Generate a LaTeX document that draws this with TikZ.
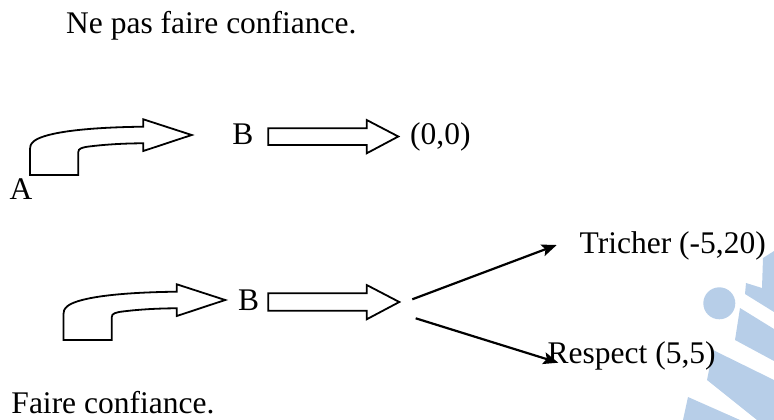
\documentclass[tikz,border=0pt]{standalone}
\usepackage{fontspec}
\setmainfont{Liberation Serif}
\usetikzlibrary{arrows.meta}
\definecolor{wmblue}{RGB}{183,206,232}
\tikzset{
  txt/.style={inner sep=0pt, anchor=base west, font=\fontsize{31.5}{36}\selectfont},
  blockarrow/.style={draw=black, line width=1.8pt, line join=miter, fill=white},
  conn/.style={draw=black, line width=2.2pt, -{Stealth[length=15pt,width=12pt,inset=3pt]}},
  wm/.style={fill=wmblue, draw=none},
  bentarrow/.pic={
    \path[blockarrow] (30,175) -- (78.3,175) -- (78.3,152)
      .. controls (78.3,148.5) and (82,147.3) .. (90,146.4)
      .. controls (105,144.5) and (125,143.3) .. (143.3,143.3)
      -- (143.3,151) -- (191.7,135) -- (143.3,119.3) -- (143.3,126.7)
      .. controls (75,127.5) and (42,134) .. (33.5,141.5)
      .. controls (30.5,144.5) and (30,146) .. (30,149) -- cycle;
  }
}
\begin{document}
\begin{tikzpicture}[x=1pt,y=-1pt]
\useasboundingbox (0,0) rectangle (774,420);
% watermark
\fill[wm] (719.3,303.3) circle (16);
\fill[wm] (763,258) -- (774,251) -- (774,312) -- (745,294) -- (746,283) -- (762,288) -- cycle;
\fill[wm] (740,308) -- (774,329) -- (774,361) -- (735,340) -- cycle;
\fill[wm] (713,350) -- (774,380) -- (774,420) -- (757,420) -- (707,380) -- cycle;
\fill[wm] (688,397) -- (740,420) -- (683,420) -- cycle;
% texts
\node[txt] (title) at (66,33.5) {Ne pas faire confiance.};
\node[txt] (A) at (9.5,199) {A};
\node[txt] (B1) at (232.2,144) {B};
\node[txt] (O) at (410,144) {(0,0)};
\node[txt] (B2) at (237.8,310.7) {B};
\node[txt] (T) at (579.5,253.3) {Tricher (-5,20)};
\node[txt] (R) at (547.5,363.3) {Respect (5,5)};
\node[txt] (F) at (11.3,413) {Faire confiance.};
% bent arrows
\pic (ba1) at (0,0) {bentarrow};
\pic (ba2) at (33.5,165) {bentarrow};
% straight block arrows
\path[blockarrow] (268.3,128.3) -- (366.7,128.3) -- (366.7,120) -- (398.3,136.5) -- (366.7,153.3) -- (366.7,145) -- (268.3,145) -- cycle;
\path[blockarrow] (268.3,293.3) -- (366.7,293.3) -- (366.7,285) -- (399.3,302) -- (366.7,319.3) -- (366.7,310.7) -- (268.3,310.7) -- cycle;
% connectors
\coordinate (s1) at (412.3,299.3);
\coordinate (e1) at (556.7,245);
\coordinate (s2) at (415.7,318.3);
\coordinate (e2) at (558.3,362.7);
\draw[conn] (s1) -- (e1);
\draw[conn] (s2) -- (e2);
\end{tikzpicture}
\end{document}
